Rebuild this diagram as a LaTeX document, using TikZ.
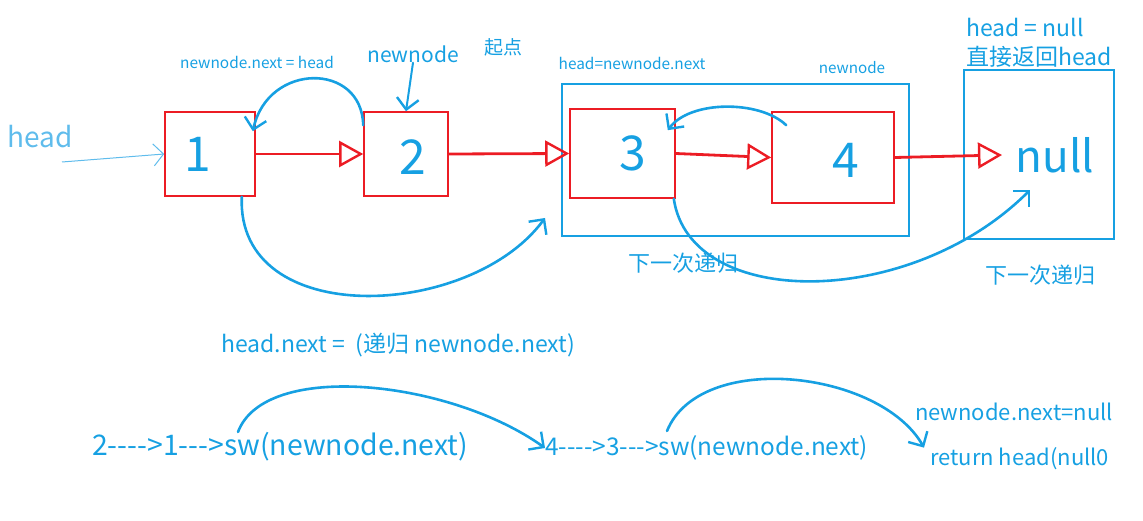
\documentclass[tikz,border=0pt]{standalone}
\usepackage{fontspec}
\setmainfont{Noto Sans CJK SC}
\usetikzlibrary{positioning,arrows.meta}
\definecolor{penblue}{RGB}{22,160,226}
\definecolor{penlight}{RGB}{95,188,236}
\definecolor{penred}{RGB}{236,28,36}
\newcommand{\fs}[1]{\fontsize{#1}{#1}\selectfont}
\newcommand{\hy}{-{}}

\tikzset{
  listbox/.style={draw=penred,line width=1.6pt,inner sep=0pt,text=penblue},
  framebox/.style={draw=penblue,line width=1.6pt,inner sep=0pt},
  note/.style={text=penblue,inner sep=0pt},
  nextarrow/.style={draw=penred,line width=2.8pt,-{Triangle[open,length=24pt,width=26pt,line width=2.4pt]}},
  pen/.style={draw=penblue,line width=2.6pt,line cap=round,-{Straight Barb[length=11pt,width=22pt,line width=2.4pt]}}
}

\begin{document}
\begin{tikzpicture}[x=1pt,y=-1pt]
    \useasboundingbox (0,0) rectangle (1143,521);

    % the frames of the next call
    \node[framebox,minimum width=347pt,minimum height=152pt] (call) at (735.5,160) {};
    \node[framebox,minimum width=150pt,minimum height=169pt] (nullbox) at (1039,154.5) {};

    % list nodes
    \node[listbox,minimum width=90pt,minimum height=84pt,
          label={[note,xshift=-12pt]center:\fs{48}1}] (n1) at (210,154) {};
    \node[listbox,minimum width=84pt,minimum height=84pt,
          label={[note,xshift=7pt,yshift=-3pt]center:\fs{48}2}] (n2) at (406,154) {};
    \node[listbox,minimum width=105pt,minimum height=89pt,
          label={[note,xshift=10pt]center:\fs{48}3}] (n3) at (622.5,153.5) {};
    \node[listbox,minimum width=122pt,minimum height=91pt,
          label={[note,xshift=13pt,yshift=-3pt]center:\fs{48}4}] (n4) at (833,157.5) {};
    \node[note] (null) at (1055,155) {\fs{44}null};
    \coordinate (nulltip) at (1002,155);

    % texts
    \node[note,text=penlight] (head) at (40,137) {\fs{28}\itshape head};
    \coordinate (headtail) at (62,162);
    \node[note] (link) at (257,62) {\fs{15.4}newnode.next = head};
    \node[note] (nn) at (413,54) {\fs{21}newnode};
    \node[note] (start) at (503,47) {\fs{19}起点};
    \node[note] (hnn) at (632,63) {\fs{15.4}head=newnode.next};
    \node[note] (nn2) at (852,68) {\fs{15.2}newnode};
    \node[note,anchor=west,align=left,font=\fontsize{23}{29}\selectfont] (isnull) at (966,43) {head = null\\直接返回head};
    \node[note] (rec1) at (683,263) {\fs{22}下一次递归};
    \node[note] (rec2) at (1040,275) {\fs{22}下一次递归};
    \node[note,anchor=west] (hnext) at (221,345) {\fs{23}head.next =\ \ (递归 newnode.next)};

    \node[note,anchor=west] (chain1) at (92,447) {\fs{28.4}2\hy\hy\hy\hy>1\hy\hy\hy>sw(newnode.next)};
    \node[note,anchor=west] (chain2) at (545,448) {\fs{24.4}4\hy\hy\hy\hy>3\hy\hy\hy>sw(newnode.next)};
    \node[note,anchor=west] (nnull) at (915,412) {\fs{22}newnode.next=null};
    \node[note,anchor=west] (ret) at (930,459) {\fs{22}return head(null0};
    \coordinate (sw1) at (238,432);
    \coordinate (sw2) at (667,431);

    % next pointers
    \path[nextarrow] (n1.east) -- (n2.west);
    \path[nextarrow] (n2.east) -- (n3.west);
    \path[nextarrow] (n3.east) -- (n4.west);
    \path[nextarrow] (n4.east) -- (nulltip);

    % pen strokes
    \draw[penlight,line width=1pt,-{Straight Barb[length=10pt,width=22pt]}] (headtail) -- (n1.west);
    \draw[pen,line width=2pt] (nn.south) -- (n2.north);
    \draw[pen] ([yshift=-14pt]n2.north west) .. controls (362,62) and (268,62) .. ([xshift=-3pt,yshift=-20pt]n1.north east);
    \draw[pen] ([xshift=15pt,yshift=-14pt]n4.north west) .. controls (760,100) and (690,100) .. ([xshift=-8pt,yshift=-22pt]n3.north east);
    \draw[pen] ([xshift=-14pt]n1.south east) .. controls (236,330) and (470,320) .. (545,218);
    \draw[pen] ([xshift=-2pt]n3.south east) .. controls (690,310) and (910,310) .. (1030,190);
    \draw[pen] (sw1) .. controls (265,360) and (450,380) .. (chain2.west);
    \draw[pen] (sw2) .. controls (700,350) and (880,370) .. ([xshift=-6pt]ret.north west);

\end{tikzpicture}
\end{document}
